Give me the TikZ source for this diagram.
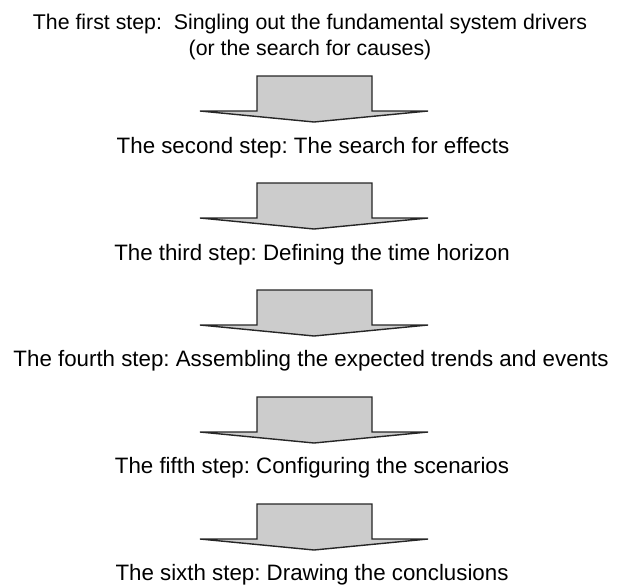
\documentclass[tikz,border=0pt]{standalone}
\usepackage{fontspec}
\setmainfont{Liberation Sans}
\begin{document}
\frenchspacing
\begin{tikzpicture}[x=1pt,y=-1pt,
  lbl/.style={font=\fontsize{22.3}{26}\selectfont, align=center, inner sep=0pt, anchor=base},
  bigarrow/.style={draw=black!85, line width=1.4pt, fill=black!20, line join=miter}]
\useasboundingbox (0,0) rectangle (618,587);
\node[lbl, font=\fontsize{21.3}{26}\selectfont] (s1) at (310,55) {The first step:\ \ Singling out the fundamental system drivers\\(or the search for causes)};
\node[lbl] (s2) at (313,153) {The second step: The search for effects};
\node[lbl] (s3) at (312,260) {The third step: Defining the time horizon};
\node[lbl] (s4) at (311,366) {The fourth step: Assembling the expected trends and events};
\node[lbl] (s5) at (312,473) {The fifth step: Configuring the scenarios};
\node[lbl] (s6) at (312,580) {The sixth step: Drawing the conclusions};
\foreach \y [count=\i] in {76,183,290,397,504} {
  \draw[bigarrow] (257,\y) -- (372,\y) -- (372,\y+35) -- (428,\y+35) -- (314,\y+46) -- (200,\y+35) -- (257,\y+35) -- cycle;
}
\end{tikzpicture}
\end{document}
